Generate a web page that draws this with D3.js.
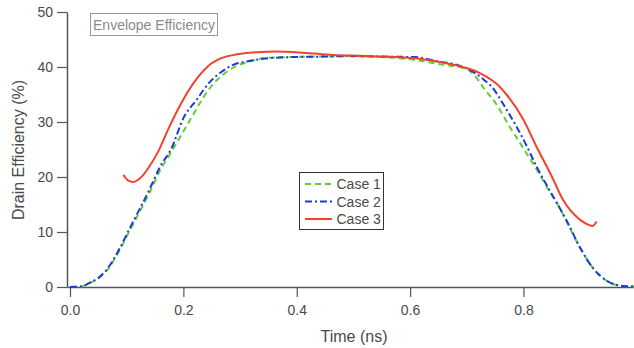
<!DOCTYPE html>
<html>
<head>
<meta charset="utf-8">
<script src="https://cdn.jsdelivr.net/npm/d3@7"></script>
<style>
  html, body { margin: 0; padding: 0; background: #fff; }
  svg { display: block; font-family: "Liberation Sans", Arial, sans-serif; }
</style>
</head>
<body>
<svg id="chart"></svg>
<script>
// values
const case1Time = [0, 0.02, 0.035, 0.053, 0.068, 0.088, 0.106, 0.123, 0.141, 0.159, 0.176, 0.191, 0.212, 0.229, 0.244, 0.259, 0.276, 0.294, 0.317, 0.341, 0.388, 0.45, 0.5, 0.55, 0.6, 0.653, 0.7, 0.715, 0.729, 0.753, 0.776, 0.8, 0.829, 0.847, 0.861, 0.879, 0.899, 0.923, 0.949, 0.975, 0.995];
const case1Eff = [0, 0.1, 0.7, 1.8, 3.4, 6.8, 10.4, 13.7, 17.3, 21.2, 24.1, 26.7, 30.4, 33.4, 35.8, 37.6, 39.1, 40.2, 41.0, 41.6, 41.8, 41.9, 41.9, 41.8, 41.4, 40.5, 39.6, 38.3, 36.3, 33.1, 29.1, 25.2, 20.4, 17.2, 14.9, 11.3, 7.3, 3.4, 1.0, 0.2, 0.1];

const case2Time = [0, 0.02, 0.035, 0.053, 0.068, 0.088, 0.106, 0.123, 0.141, 0.159, 0.179, 0.2, 0.223, 0.247, 0.267, 0.288, 0.312, 0.341, 0.39, 0.45, 0.5, 0.55, 0.608, 0.65, 0.682, 0.711, 0.73, 0.744, 0.767, 0.788, 0.805, 0.823, 0.841, 0.861, 0.879, 0.899, 0.923, 0.949, 0.975, 0.995];
const case2Eff = [0, 0.1, 0.8, 1.9, 3.6, 7.1, 10.8, 14.2, 17.9, 21.9, 25.2, 30.7, 34.0, 37.3, 39.1, 40.4, 41.0, 41.5, 41.8, 41.9, 42.0, 41.9, 41.8, 41.0, 40.4, 39.1, 37.7, 36.4, 32.8, 29.1, 25.8, 21.9, 18.5, 14.9, 11.5, 7.3, 3.4, 1.0, 0.2, 0.1];

const case3Time = [0.094, 0.102, 0.112, 0.124, 0.138, 0.156, 0.173, 0.191, 0.206, 0.226, 0.244, 0.267, 0.295, 0.33, 0.365, 0.411, 0.464, 0.52, 0.608, 0.653, 0.7, 0.723, 0.737, 0.752, 0.77, 0.8, 0.823, 0.85, 0.87, 0.9, 0.915, 0.922, 0.929];
const case3Eff = [20.4, 19.4, 19.1, 19.8, 21.6, 24.7, 28.6, 32.4, 35.2, 38.2, 40.2, 41.6, 42.3, 42.7, 42.8, 42.6, 42.2, 42.0, 41.6, 40.9, 39.8, 38.9, 38.1, 37.0, 35.0, 30.4, 25.5, 20.1, 15.8, 12.2, 11.3, 11.1, 11.9];

const caseNames = ["Case 1", "Case 2", "Case 3"];
const xTicks = [0, 0.2, 0.4, 0.6, 0.8];
const yTicks = [0, 10, 20, 30, 40, 50];

const width = 634;
const height = 348;

const svg = d3.select("#chart")
    .attr("width", width)
    .attr("height", height)
    .attr("viewBox", `0 0 ${width} ${height}`);

const x = d3.scaleLinear().domain([-0.0053, 0.995]).range([67, 634]);
const y = d3.scaleLinear().domain([0, 50]).range([287, 12]);

const axisColor = "#555";
const textColor = "#4a4a4a";

// x axis
svg.append("g")
    .attr("transform", `translate(0,${y(0)})`)
    .call(d3.axisBottom(x).tickValues(xTicks).tickFormat(d3.format(".1f")).tickSize(10).tickPadding(8).tickSizeOuter(0))
    .call(g => g.select(".domain").attr("stroke", axisColor).attr("stroke-width", 1.5))
    .call(g => g.selectAll(".tick line").attr("stroke", axisColor).attr("stroke-width", 1.2))
    .call(g => g.selectAll(".tick text").attr("fill", textColor).attr("font-size", 14));

// y axis
svg.append("g")
    .attr("transform", `translate(${x.range()[0]},0)`)
    .call(d3.axisLeft(y).tickValues(yTicks).tickSize(10).tickPadding(4).tickSizeOuter(0))
    .call(g => g.select(".domain").attr("stroke", axisColor).attr("stroke-width", 1.5))
    .call(g => g.selectAll(".tick line").attr("stroke", axisColor).attr("stroke-width", 1.2))
    .call(g => g.selectAll(".tick text").attr("fill", textColor).attr("font-size", 14));

svg.append("text")
    .attr("x", 354).attr("y", 342)
    .attr("text-anchor", "middle")
    .attr("fill", textColor)
    .attr("font-size", 16)
    .text("Time (ns)");

svg.append("text")
    .attr("transform", "translate(24,150) rotate(-90)")
    .attr("text-anchor", "middle")
    .attr("fill", textColor)
    .attr("font-size", 16)
    .text("Drain Efficiency (%)");

// annotation box
svg.append("rect")
    .attr("x", 90.5).attr("y", 13.5).attr("width", 127).attr("height", 22)
    .attr("fill", "#fff").attr("stroke", "#999");
svg.append("text")
    .attr("x", 154).attr("y", 29.5)
    .attr("text-anchor", "middle")
    .attr("fill", "#8a8a8a")
    .attr("font-size", 14)
    .text("Envelope Efficiency");

const series = [
    { name: caseNames[0], time: case1Time, eff: case1Eff, color: "#5ccf33", dash: "6,4" },
    { name: caseNames[1], time: case2Time, eff: case2Eff, color: "#1c3bd6", dash: "7,3,2,3" },
    { name: caseNames[2], time: case3Time, eff: case3Eff, color: "#f2412c", dash: null }
];

const line = d3.line()
    .x(d => x(d[0]))
    .y(d => y(d[1]))
    .curve(d3.curveMonotoneX);

svg.append("g")
    .attr("fill", "none")
    .attr("stroke-width", 2)
    .selectAll("path")
    .data(series)
    .join("path")
    .attr("stroke", d => d.color)
    .attr("stroke-dasharray", d => d.dash)
    .attr("d", d => line(d.time.map((t, i) => [t, d.eff[i]])));

// legend
const legend = svg.append("g");
legend.append("rect")
    .attr("x", 299.5).attr("y", 172.5).attr("width", 84).attr("height", 57)
    .attr("fill", "#fff").attr("stroke", "#333");

const item = legend.selectAll("g.item")
    .data(series)
    .join("g")
    .attr("class", "item")
    .attr("transform", (d, i) => `translate(0,${184 + i * 17.5})`);

item.append("line")
    .attr("x1", 305).attr("x2", 332)
    .attr("stroke", d => d.color)
    .attr("stroke-width", 2)
    .attr("stroke-dasharray", d => d.dash);

item.append("text")
    .attr("x", 336.5).attr("y", 5)
    .attr("fill", textColor)
    .attr("font-size", 14)
    .text(d => d.name);
</script>
</body>
</html>
